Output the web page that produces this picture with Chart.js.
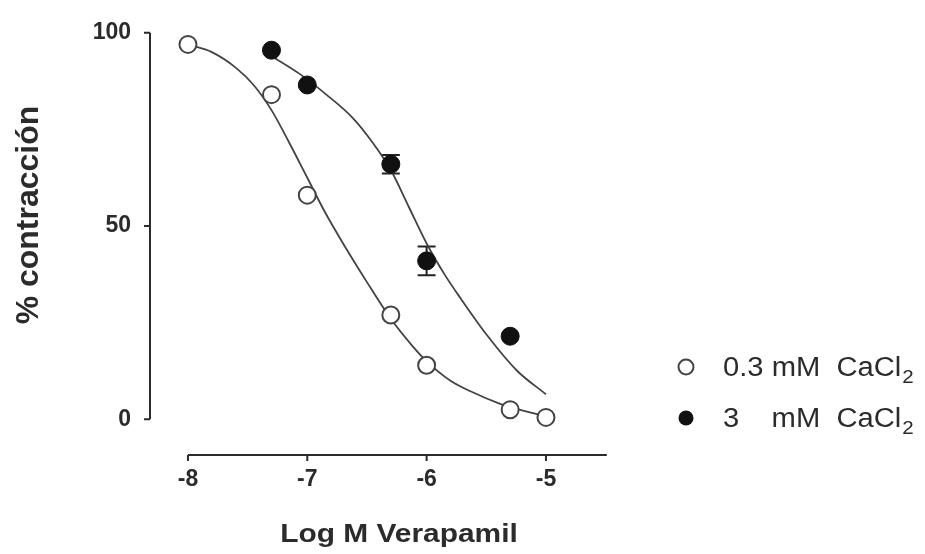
<!DOCTYPE html>
<html lang="es">
<head>
<meta charset="UTF-8">
<title>Verapamil - % contracción</title>
<script src="https://cdn.jsdelivr.net/npm/chart.js"></script>
<style>
  html, body { margin: 0; padding: 0; background: #fff; }
  canvas { display: block; }
</style>
</head>
<body>
<canvas id="chart" width="925" height="554"></canvas>
<script>
// --- data ---
const xTicks = [-8, -7, -6, -5];
const yTicks = [0, 50, 100];
const seriesNames = ['0.3 mM  CaCl2', '3    mM  CaCl2'];

// 0.3 mM CaCl2 (open circles)
const logDoseLow = [-8, -7.3, -7, -6.3, -6, -5.3, -5];
const contrLow = [97, 84, 58, 27, 14, 2.5, 0.5];

// 3 mM CaCl2 (filled circles) with error bars
const logDoseHigh = [-7.3, -7, -6.3, -6, -5.3];
const contrHigh = [95.5, 86.5, 66, 41, 21.5];
const errHigh = [0, 0, 2.4, 3.7, 0];

// fitted curves, points
const fitXLow = [-8, -7.8, -7.6, -7.45, -7.3, -7.15, -7, -6.85, -6.7, -6.5, -6.3, -6.12, -6, -5.8, -5.6, -5.4, -5.2, -5];
const fitYLow = [97, 95, 91, 86.5, 80, 71.5, 62.5, 53.5, 45.5, 35.5, 26, 19, 15, 10, 6.8, 4.2, 2.3, 0.8];
const fitXHigh = [-7.3, -7.07, -6.84, -6.62, -6.45, -6.3, -6.15, -6, -5.85, -5.72, -5.5, -5.24, -5];
const fitYHigh = [94, 89.5, 84, 78, 71.5, 64.5, 55, 45.5, 37.5, 31.5, 22, 12.5, 6.5];

const ink = '#2b2b2b';
const lineInk = '#444';
const font = '"Liberation Sans", Arial, Helvetica, sans-serif';

const pts = (xs, ys) => xs.map((v, i) => ({ x: v, y: ys[i] }));

// draws text squeezed/stretched horizontally
function stretchText(ctx, text, x, y, sx, align) {
  ctx.save();
  ctx.translate(x, y);
  ctx.scale(sx, 1);
  ctx.textAlign = align || 'left';
  ctx.fillText(text, 0, 0);
  ctx.restore();
}

const figurePlugin = {
  id: 'figurePlugin',
  beforeDatasetsDraw(chart) {
    const { ctx, chartArea, scales: { x, y } } = chart;
    ctx.save();
    ctx.strokeStyle = ink;
    ctx.lineWidth = 2;
    ctx.beginPath();
    // y axis, only spans the tick range
    const ax = chartArea.left;
    ctx.moveTo(ax, y.getPixelForValue(yTicks[0]));
    ctx.lineTo(ax, y.getPixelForValue(yTicks[yTicks.length - 1]));
    yTicks.forEach(v => {
      const py = y.getPixelForValue(v);
      ctx.moveTo(ax - 6, py);
      ctx.lineTo(ax, py);
    });
    // x axis, detached below the plot
    const ay = chartArea.bottom;
    ctx.moveTo(x.getPixelForValue(xTicks[0]), ay);
    ctx.lineTo(x.getPixelForValue(-4.49), ay);
    xTicks.forEach(v => {
      const px = x.getPixelForValue(v);
      ctx.moveTo(px, ay);
      ctx.lineTo(px, ay + 6);
    });
    ctx.stroke();

    // error bars for 3 mM
    ctx.strokeStyle = '#222';
    ctx.lineWidth = 2;
    ctx.beginPath();
    errHigh.forEach((e, i) => {
      if (!e) return;
      const px = x.getPixelForValue(logDoseHigh[i]);
      const top = y.getPixelForValue(contrHigh[i] + e);
      const bot = y.getPixelForValue(contrHigh[i] - e);
      ctx.moveTo(px, top); ctx.lineTo(px, bot);
      ctx.moveTo(px - 9, top); ctx.lineTo(px + 9, top);
      ctx.moveTo(px - 9, bot); ctx.lineTo(px + 9, bot);
    });
    ctx.stroke();
    ctx.restore();
  },
  afterDraw(chart) {
    const { ctx } = chart;
    ctx.save();
    ctx.fillStyle = ink;
    ctx.textBaseline = 'alphabetic';

    // axis titles
    ctx.font = 'bold 26px ' + font;
    stretchText(ctx, 'Log M Verapamil', 399, 542, 1.15, 'center');
    ctx.save();
    ctx.translate(38, 215);
    ctx.rotate(-Math.PI / 2);
    ctx.font = 'bold 32px ' + font;
    ctx.textAlign = 'center';
    ctx.fillText('% contracción', 0, 0);
    ctx.restore();

    // legend
    const rows = [367, 418];
    rows.forEach((ry, i) => {
      ctx.beginPath();
      ctx.arc(686, ry, 7.5, 0, Math.PI * 2);
      if (i === 0) {
        ctx.fillStyle = '#fff';
        ctx.fill();
        ctx.lineWidth = 2;
        ctx.strokeStyle = lineInk;
        ctx.stroke();
      } else {
        ctx.fillStyle = '#111';
        ctx.fill();
      }
      ctx.fillStyle = ink;
      const name = seriesNames[i];
      const main = name.slice(0, -1);
      const sub = name.slice(-1);
      ctx.font = '27px ' + font;
      ctx.save();
      ctx.translate(723, ry + 9);
      ctx.scale(1.08, 1);
      ctx.textAlign = 'left';
      ctx.fillText(main, 0, 0);
      const w = ctx.measureText(main).width;
      ctx.font = '19px ' + font;
      ctx.fillText(sub, w + 1, 7);
      ctx.restore();
    });
    ctx.restore();
  }
};

new Chart(document.getElementById('chart'), {
  type: 'scatter',
  data: {
    datasets: [
      {
        label: seriesNames[0],
        data: pts(logDoseLow, contrLow),
        showLine: false,
        pointRadius: 8.5,
        pointBackgroundColor: '#fff',
        pointBorderColor: lineInk,
        pointBorderWidth: 2
      },
      {
        label: seriesNames[1],
        data: pts(logDoseHigh, contrHigh),
        showLine: false,
        pointRadius: 9,
        pointBackgroundColor: '#111',
        pointBorderColor: '#111',
        pointBorderWidth: 1
      },
      {
        label: 'fit 0.3',
        data: pts(fitXLow, fitYLow),
        showLine: true,
        pointRadius: 0,
        borderColor: lineInk,
        borderWidth: 1.8,
        cubicInterpolationMode: 'monotone'
      },
      {
        label: 'fit 3',
        data: pts(fitXHigh, fitYHigh),
        showLine: true,
        pointRadius: 0,
        borderColor: lineInk,
        borderWidth: 1.8,
        cubicInterpolationMode: 'monotone'
      }
    ]
  },
  options: {
    responsive: false,
    animation: false,
    devicePixelRatio: 1,
    layout: { padding: { left: 80, top: 29, right: 285, bottom: 39 } },
    plugins: { legend: { display: false }, tooltip: { enabled: false } },
    scales: {
      x: {
        type: 'linear',
        min: -8.318,
        max: -4.212,
        afterBuildTicks: s => { s.ticks = xTicks.map(v => ({ value: v })); },
        afterFit: s => { s.height = 60; },
        grid: { display: false, drawTicks: false },
        border: { display: false },
        ticks: {
          padding: 11,
          color: ink,
          font: { family: font, size: 23, weight: 'bold' },
          callback: v => String(v)
        }
      },
      y: {
        type: 'linear',
        min: -9.23,
        max: 100,
        afterBuildTicks: s => { s.ticks = yTicks.map(v => ({ value: v })); },
        afterFit: s => { s.width = 70; },
        grid: { display: false, drawTicks: false },
        border: { display: false },
        ticks: {
          padding: 19,
          color: ink,
          font: { family: font, size: 23, weight: 'bold' },
          callback: v => String(v)
        }
      }
    }
  },
  plugins: [figurePlugin]
});
</script>
</body>
</html>
